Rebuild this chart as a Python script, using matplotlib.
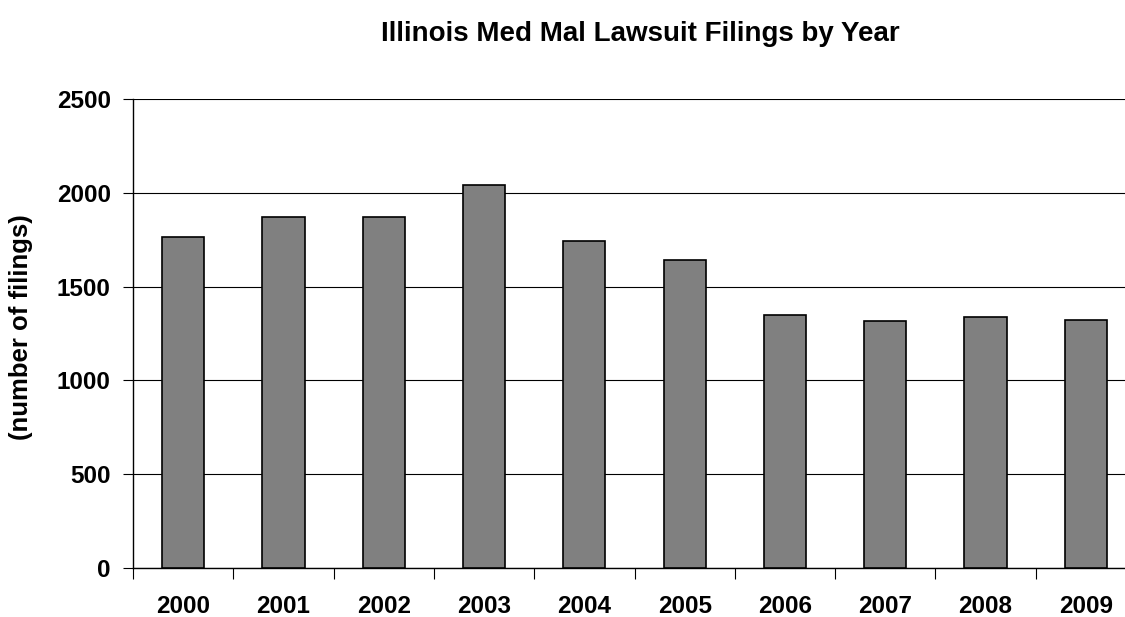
import numpy as np
import matplotlib.pyplot as plt
from matplotlib.ticker import FixedLocator, NullFormatter

years = ['2000', '2001', '2002', '2003', '2004', '2005', '2006', '2007', '2008', '2009']
filings = [1767, 1872, 1872, 2039, 1742, 1642, 1350, 1317, 1340, 1324]

plt.rcParams['font.family'] = ['Liberation Sans', 'DejaVu Sans']
plt.rcParams['font.weight'] = 'bold'

fig = plt.figure(figsize=(11.25, 6.17), dpi=100)
W, H = 1125, 617
# plot area runs a little past the right edge, as in the reference
ax = fig.add_axes([133 / W, (H - 568) / H, (1136 - 133) / W, (568 - 99) / H])

x = np.arange(len(years))
ax.bar(x, filings, width=0.42, color='#808080', edgecolor='black', linewidth=1.2, zorder=3)

ax.set_xlim(-0.5, len(years) - 0.5)
ax.set_ylim(0, 2500)
ax.set_yticks(np.arange(0, 2501, 500))
ax.yaxis.grid(True, color='black', linewidth=0.8, zorder=0)
ax.set_axisbelow(True)

# category ticks sit between the bars
ax.set_xticks(x)
ax.set_xticklabels(years, fontweight='bold')
ax.tick_params(axis='x', which='major', length=0, pad=19.5, labelsize=17.5)
ax.xaxis.set_minor_locator(FixedLocator(np.arange(-0.5, len(years), 1.0)))
ax.xaxis.set_minor_formatter(NullFormatter())
ax.tick_params(axis='x', which='minor', length=8, width=0.8, direction='out')
ax.tick_params(axis='y', length=7, width=0.8, direction='out', labelsize=17.5, pad=9)

for s in ['top', 'right']:
    ax.spines[s].set_visible(False)
ax.spines['left'].set_linewidth(1.0)
ax.spines['bottom'].set_linewidth(1.0)

fig.text(21 / W, 1 - 327 / H, '(number of filings)', rotation=90,
         ha='center', va='center', fontsize=18.5, fontweight='bold')
fig.text(640 / W, 1 - 34 / H, 'Illinois Med Mal Lawsuit Filings by Year',
         ha='center', va='center', fontsize=20, fontweight='bold')

fig.savefig('out.png', dpi=100)
